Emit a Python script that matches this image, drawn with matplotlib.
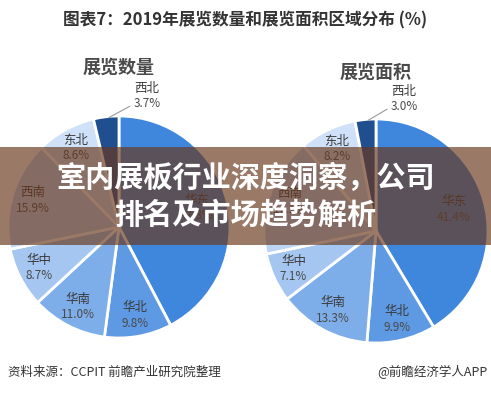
import numpy as np
import matplotlib.pyplot as plt
from matplotlib.patches import Rectangle

plt.rcParams['font.family'] = ['Noto Sans CJK SC', 'DejaVu Sans']

regions = ["华东", "华北", "华南", "华中", "西南", "东北", "西北"]
count_share = [42.3, 9.8, 11.0, 8.7, 15.9, 8.6, 3.7]
area_share = [41.4, 9.9, 13.3, 7.1, 17.1, 8.2, 3.0]
colors = ["#3f86dd", "#5e99e3", "#7eaee9", "#a5c6f1", "#bcd5f5", "#cfe1f8", "#1f4f8f"]

W, H = 491, 393
fig = plt.figure(figsize=(W / 100, H / 100), dpi=100)
fig.patch.set_facecolor("white")


def draw_pie(cx, cy, r, values, subtitle, sub_y):
    ax = fig.add_axes([(cx - r) / W, (H - cy - r) / H, 2 * r / W, 2 * r / H])
    wedges, _ = ax.pie(values, colors=colors, startangle=90, counterclock=False,
                       wedgeprops=dict(edgecolor="white", linewidth=2), radius=1)
    ax.set_xlim(-1, 1)
    ax.set_ylim(-1, 1)
    ax.axis("off")
    for w, name, v in zip(wedges[:-1], regions[:-1], values[:-1]):
        ang = np.deg2rad((w.theta1 + w.theta2) / 2)
        d = 0.72 if v > 30 else 0.81
        x, y = d * np.cos(ang), d * np.sin(ang)
        ax.text(x, y + 0.07, name, ha="center", va="center", fontsize=9, color="#3a3a3a")
        ax.text(x, y - 0.07, f"{v:.1f}%", ha="center", va="center", fontsize=8.5, color="#4a4a4a")
    # last small slice labelled outside with a leader line
    w = wedges[-1]
    ang = np.deg2rad((w.theta1 + w.theta2) / 2)
    ax.annotate("", xy=(np.cos(ang) * 0.98, np.sin(ang) * 0.98), xytext=(0.12, 1.1),
                arrowprops=dict(arrowstyle="-", color="#9a9a9a", lw=0.8), annotation_clip=False)
    ax.text(0.25, 1.25, regions[-1], ha="center", va="center", fontsize=9, color="#3a3a3a", clip_on=False)
    ax.text(0.25, 1.11, f"{values[-1]:.1f}%", ha="center", va="center", fontsize=8.5, color="#4a4a4a", clip_on=False)
    fig.text(cx / W, 1 - sub_y / H, subtitle, ha="center", va="center", fontsize=13,
             color="#4a4a4a", fontweight="bold")


draw_pie(119, 227, 111, count_share, "展览数量", 67)
draw_pie(376, 231, 112, area_share, "展览面积", 72)

fig.text(0.5, 1 - 20 / H, "图表7：2019年展览数量和展览面积区域分布 (%)", ha="center", va="center",
         fontsize=12, fontweight="bold", color="#333333")

# dark banner overlay
fig.patches.append(Rectangle((0, (H - 245) / H), 1, 98 / H, transform=fig.transFigure,
                             facecolor=(105 / 255, 55 / 255, 28 / 255), alpha=0.67,
                             edgecolor="none", zorder=5))
fig.text(0.5, 1 - 178 / H, "室内展板行业深度洞察，公司", ha="center", va="center",
         fontsize=21, fontweight="bold", color="white", zorder=6)
fig.text(0.5, 1 - 215 / H, "排名及市场趋势解析", ha="center", va="center",
         fontsize=21, fontweight="bold", color="white", zorder=6)

fig.text(8 / W, 1 - 372 / H, "资料来源：CCPIT 前瞻产业研究院整理", ha="left", va="center",
         fontsize=9, color="#333333")
fig.text(487 / W, 1 - 372 / H, "@前瞻经济学人APP", ha="right", va="center",
         fontsize=9, color="#333333")

fig.savefig("out.png", dpi=100)
